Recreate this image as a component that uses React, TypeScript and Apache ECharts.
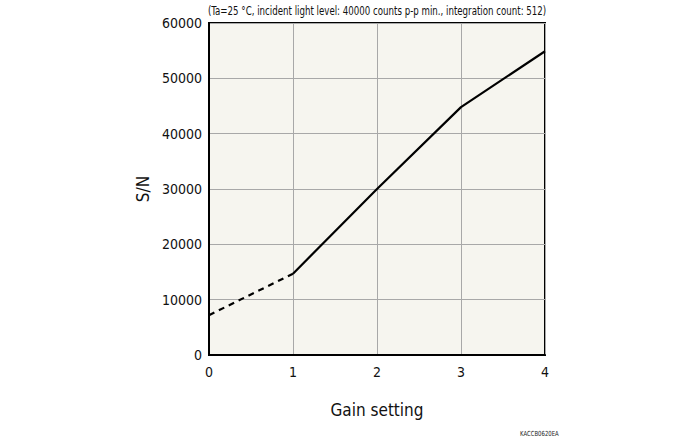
import React, { useEffect, useRef } from "react";
import * as echarts from "echarts";

const gainSettings = [0, 1, 2, 3, 4];
const dashedSN: (number | null)[] = [7200, 14700, null, null, null];
const solidSN: (number | null)[] = [null, 14700, 30000, 44800, 54900];
const yTicks = [0, 10000, 20000, 30000, 40000, 50000, 60000];
const titleText = "(Ta=25 °C, incident light level: 40000 counts p-p min., integration count: 512)";
const footerText = "KACCB0620EA";

export default function App() {
  const ref = useRef<HTMLDivElement>(null);
  useEffect(() => {
    if (!ref.current) return;
    const chart = echarts.init(ref.current, null, { renderer: "svg" });
    const font = "'DejaVu Sans Condensed', 'DejaVu Sans', sans-serif";
    chart.setOption({
      animation: false,
      backgroundColor: "#ffffff",
      grid: {
        left: 209,
        right: 155,
        top: 23,
        bottom: 85,
        show: true,
        backgroundColor: "#f6f5ef",
        borderColor: "#000",
        borderWidth: 2,
      },
      graphic: [
        {
          type: "text",
          x: 208,
          y: 4,
          scaleX: 0.74,
          style: { text: titleText, font: `13px ${font}`, fill: "#111" },
        },
        {
          type: "text",
          x: 520,
          y: 430,
          scaleX: 0.85,
          style: { text: footerText, font: `7px ${font}`, fill: "#222" },
        },
      ],
      xAxis: {
        type: "value",
        min: 0,
        max: 4,
        interval: 1,
        name: "Gain setting",
        nameLocation: "middle",
        nameGap: 46,
        nameTextStyle: { fontFamily: font, fontSize: 17, color: "#111" },
        axisLine: { show: true, lineStyle: { color: "#000", width: 2 } },
        axisTick: { show: false },
        axisLabel: {
          fontFamily: font,
          fontSize: 14,
          color: "#111",
          margin: 10,
          formatter: (v: number) => (gainSettings.includes(v) ? String(v) : ""),
        },
        splitLine: { show: true, lineStyle: { color: "#a8a8a8", width: 1 } },
      },
      yAxis: {
        type: "value",
        min: 0,
        max: 60000,
        interval: 10000,
        name: "S/N",
        nameLocation: "middle",
        nameGap: 58,
        nameRotate: 90,
        nameTextStyle: { fontFamily: font, fontSize: 17, color: "#111" },
        axisLine: { show: true, lineStyle: { color: "#000", width: 2 } },
        axisTick: { show: false },
        axisLabel: {
          fontFamily: font,
          fontSize: 14,
          color: "#111",
          margin: 7,
          formatter: (v: number) => (yTicks.includes(v) ? String(v) : ""),
        },
        splitLine: { show: true, lineStyle: { color: "#a8a8a8", width: 1 } },
      },
      series: [
        {
          type: "line",
          data: gainSettings.map((g, i) => [g, dashedSN[i]]),
          connectNulls: false,
          showSymbol: false,
          symbol: "none",
          lineStyle: { color: "#000", width: 2.2, type: [6, 5] },
        },
        {
          type: "line",
          data: gainSettings.map((g, i) => [g, solidSN[i]]),
          connectNulls: false,
          showSymbol: false,
          symbol: "none",
          lineStyle: { color: "#000", width: 2.2 },
        },
      ],
    });
    return () => chart.dispose();
  }, []);
  return <div ref={ref} style={{ width: 700, height: 440, position: "absolute", left: 0, top: 0 }} />;
}
